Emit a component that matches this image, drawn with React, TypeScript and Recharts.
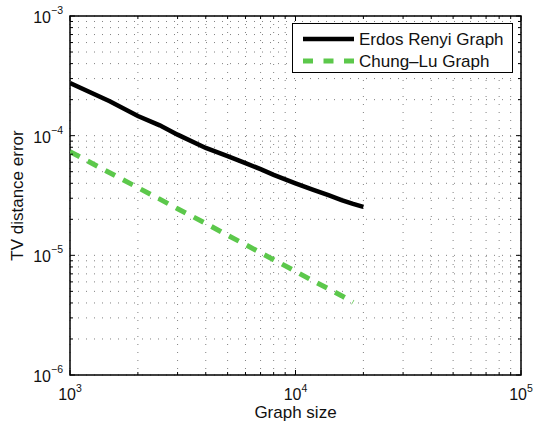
import React from 'react';
import { LineChart, Line, XAxis, YAxis, CartesianGrid, ReferenceArea, Label } from 'recharts';

const WIDTH = 534;
const HEIGHT = 429;
const MARGIN = { top: 16, right: 13, bottom: 0, left: 0 };
const Y_AXIS_W = 70;
const X_AXIS_H = 54;
const PLOT_LEFT = MARGIN.left + Y_AXIS_W;
const PLOT_RIGHT = WIDTH - MARGIN.right;
const PLOT_TOP = MARGIN.top;
const PLOT_BOTTOM = HEIGHT - X_AXIS_H - MARGIN.bottom;
const FONT = '"Liberation Sans", Arial, Helvetica, sans-serif';

// graph sizes (x) and TV distance errors
const sizes = [1000, 1500, 2000, 2500, 3000, 4000, 5000, 6000, 7000, 8000, 10000, 12000, 14000, 16000, 18000, 20000];
const erdosRenyi = [2.75e-4, 1.94e-4, 1.46e-4, 1.22e-4, 1.02e-4, 7.9e-5, 6.75e-5, 5.9e-5, 5.25e-5, 4.7e-5, 4.0e-5, 3.53e-5, 3.18e-5, 2.89e-5, 2.69e-5, 2.54e-5];
// the dashed series stops a little before 2e4 in the picture
const chungLu = [7.35e-5, 4.9e-5, 3.68e-5, 2.95e-5, 2.45e-5, 1.85e-5, 1.47e-5, 1.23e-5, 1.05e-5, 9.2e-6, 7.35e-6, 6.1e-6, 5.25e-6, 4.6e-6, 4.05e-6, null];

const xTicks = [1000, 2000, 3000, 4000, 5000, 6000, 7000, 8000, 9000, 10000, 20000, 30000, 40000, 50000, 60000, 70000, 80000, 90000, 100000];
const yTicks = [
  1e-6, 2e-6, 3e-6, 4e-6, 5e-6, 6e-6, 7e-6, 8e-6, 9e-6,
  1e-5, 2e-5, 3e-5, 4e-5, 5e-5, 6e-5, 7e-5, 8e-5, 9e-5,
  1e-4, 2e-4, 3e-4, 4e-4, 5e-4, 6e-4, 7e-4, 8e-4, 9e-4, 1e-3,
];

const SERIES = [
  { key: 'er', name: 'Erdos Renyi Graph', color: '#000000', width: 4.5, dash: undefined as string | undefined },
  { key: 'cl', name: 'Chung\u2013Lu Graph', color: '#5cc84b', width: 5, dash: '11 9' },
];

const data = sizes.map((n, i) => ({ n, er: erdosRenyi[i], cl: chungLu[i] }));

function decade(v: number) {
  const e = Math.round(Math.log10(v));
  return { e, major: Math.abs(Math.log10(v) - e) < 1e-6 };
}

function XTick(props: any) {
  const { x, payload } = props;
  const { e, major } = decade(payload.value);
  const len = major ? 5 : 3;
  return (
    <g>
      <line x1={x} x2={x} y1={PLOT_BOTTOM} y2={PLOT_BOTTOM - len} stroke="#000" />
      <line x1={x} x2={x} y1={PLOT_TOP} y2={PLOT_TOP + len} stroke="#000" />
      {major && (
        <text x={x} y={PLOT_BOTTOM + 25} textAnchor="middle" fontSize={16} fill="#111" fontFamily={FONT}>
          10<tspan dy={-8} fontSize={10.5}>{e}</tspan>
        </text>
      )}
    </g>
  );
}

function YTick(props: any) {
  const { y, payload } = props;
  const { e, major } = decade(payload.value);
  const len = major ? 5 : 3;
  return (
    <g>
      <line x1={PLOT_LEFT} x2={PLOT_LEFT + len} y1={y} y2={y} stroke="#000" />
      <line x1={PLOT_RIGHT} x2={PLOT_RIGHT - len} y1={y} y2={y} stroke="#000" />
      {major && (
        <text x={PLOT_LEFT - 7} y={y + 7} textAnchor="end" fontSize={16} fill="#111" fontFamily={FONT}>
          10<tspan dy={-9} fontSize={10.5}>{'\u2212' + -e}</tspan>
        </text>
      )}
    </g>
  );
}

function LegendBox() {
  return (
    <svg width={221} height={50} style={{ position: 'absolute', left: 292, top: 23 }}>
      <rect x={0.5} y={0.5} width={220} height={49} fill="#fff" stroke="#000" strokeWidth={1} />
      {SERIES.map((s, i) => {
        const cy = 16 + i * 22;
        return (
          <g key={s.key}>
            <line x1={11} x2={62} y1={cy} y2={cy} stroke={s.color} strokeWidth={s.width} strokeDasharray={s.dash ? '10 10.5' : undefined} />
            <text x={67} y={cy + 6} fontSize={17} fill="#111" fontFamily={FONT}>{s.name}</text>
          </g>
        );
      })}
    </svg>
  );
}

export default function App() {
  return (
    <div style={{ position: 'absolute', left: 0, top: 0, width: WIDTH, height: HEIGHT, background: '#fff' }}>
      <LineChart width={WIDTH} height={HEIGHT} data={data} margin={MARGIN}>
        <CartesianGrid stroke="#808080" strokeDasharray="1 7" />
        <XAxis
          dataKey="n"
          type="number"
          scale="log"
          domain={[1000, 100000]}
          ticks={xTicks}
          allowDataOverflow
          height={X_AXIS_H}
          axisLine={false}
          tickLine={false}
          tick={<XTick />}
          interval={0}
        >
          <Label
            content={() => (
              <text x={(PLOT_LEFT + PLOT_RIGHT) / 2} y={PLOT_BOTTOM + 43} textAnchor="middle" fontSize={17} fill="#111" fontFamily={FONT}>
                Graph size
              </text>
            )}
          />
        </XAxis>
        <YAxis
          type="number"
          scale="log"
          domain={[1e-6, 1e-3]}
          ticks={yTicks}
          allowDataOverflow
          width={Y_AXIS_W}
          axisLine={false}
          tickLine={false}
          tick={<YTick />}
          interval={0}
        >
          <Label
            content={() => (
              <text
                x={22.5}
                y={(PLOT_TOP + PLOT_BOTTOM) / 2}
                transform={`rotate(-90 22.5 ${(PLOT_TOP + PLOT_BOTTOM) / 2})`}
                textAnchor="middle"
                fontSize={17}
                fill="#111"
                fontFamily={FONT}
              >
                TV distance error
              </text>
            )}
          />
        </YAxis>
        {SERIES.map(s => (
          <Line
            key={s.key}
            dataKey={s.key}
            name={s.name}
            type="linear"
            stroke={s.color}
            strokeWidth={s.width}
            strokeDasharray={s.dash}
            strokeLinecap="butt"
            dot={false}
            activeDot={false}
            isAnimationActive={false}
          />
        ))}
        <ReferenceArea x1={1000} x2={100000} y1={1e-6} y2={1e-3} fill="none" stroke="#000" strokeWidth={1.5} ifOverflow="visible" />
      </LineChart>
      <LegendBox />
    </div>
  );
}
